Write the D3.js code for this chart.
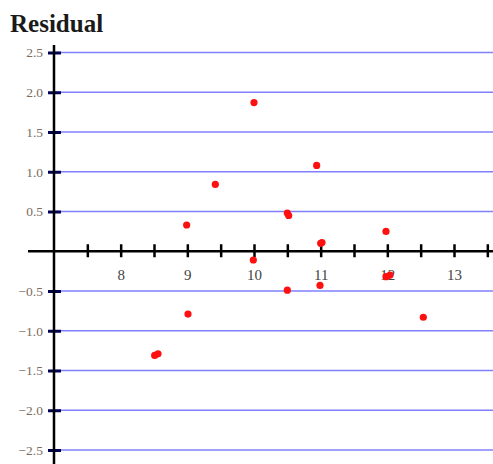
<!DOCTYPE html>
<html>
<head>
<meta charset="utf-8">
<script src="https://cdn.jsdelivr.net/npm/d3@7"></script>
<style>
  html, body { margin: 0; padding: 0; background: #fff; }
  svg { display: block; }
</style>
</head>
<body>
<svg id="chart" width="493" height="464"></svg>
<script>
// residual plot
const xVals = [10, 9.42, 8.99, 10.5, 10.52, 9.99, 10.94, 11, 11.02, 11.98, 11.98, 12.04, 10.99, 10.5, 12.54, 9.01, 8.51, 8.56];
const yVals = [1.87, 0.84, 0.33, 0.48, 0.45, -0.11, 1.08, 0.1, 0.11, 0.25, -0.32, -0.3, -0.43, -0.49, -0.83, -0.79, -1.31, -1.29];
const yTicks = [-2.5, -2.0, -1.5, -1.0, -0.5, 0.5, 1.0, 1.5, 2.0, 2.5];
const xTicks = [7.5, 8, 8.5, 9, 9.5, 10, 10.5, 11, 11.5, 12, 12.5, 13, 13.5];
const xLabels = [8, 9, 10, 11, 12, 13];

const svg = d3.select('#chart');
const W = 493, H = 464;

const x = d3.scaleLinear().domain([7, 13.585]).range([54, 493]);
const y = d3.scaleLinear().domain([-2.5, 2.5]).range([450, 52.5]);

// title
svg.append('text')
  .attr('x', 10).attr('y', 32)
  .attr('font-family', '"Liberation Serif", "Times New Roman", serif')
  .attr('font-weight', 'bold')
  .attr('font-size', 25)
  .attr('fill', '#1a1a1a')
  .text('Residual');

// horizontal grid lines
svg.append('g').selectAll('line')
  .data(yTicks)
  .enter()
  .append('line')
  .attr('x1', x(7)).attr('x2', W)
  .attr('y1', d => y(d)).attr('y2', d => y(d))
  .attr('stroke', '#8080ff')
  .attr('stroke-width', 1.6);

// y axis
const yAxis = svg.append('g')
  .attr('transform', `translate(${x(7)},0)`)
  .call(d3.axisLeft(y).tickValues(yTicks).tickFormat(d3.format('.1f')).tickSize(6).tickPadding(5));
yAxis.select('.domain').remove();
yAxis.selectAll('.tick line')
  .attr('x1', -6).attr('x2', 7)
  .attr('stroke', '#000050')
  .attr('stroke-width', 3);
yAxis.selectAll('.tick text')
  .attr('font-family', '"Liberation Serif", "Times New Roman", serif')
  .attr('font-size', 13.5)
  .attr('fill', '#7a6c60');

svg.append('line')
  .attr('x1', x(7)).attr('x2', x(7))
  .attr('y1', 45).attr('y2', H)
  .attr('stroke', '#000')
  .attr('stroke-width', 2.5);

// x axis
const xAxis = svg.append('g')
  .attr('transform', `translate(0,${y(0)})`)
  .call(d3.axisBottom(x).tickValues(xTicks)
    .tickFormat(d => xLabels.includes(d) ? d : '')
    .tickSize(6).tickPadding(12));
xAxis.select('.domain').remove();
xAxis.selectAll('.tick line')
  .attr('y1', -7).attr('y2', 6)
  .attr('stroke', '#000')
  .attr('stroke-width', 2.5);
xAxis.selectAll('.tick text')
  .attr('font-family', '"Liberation Serif", "Times New Roman", serif')
  .attr('font-size', 15)
  .attr('fill', '#444');

svg.append('line')
  .attr('x1', 28).attr('x2', W)
  .attr('y1', y(0)).attr('y2', y(0))
  .attr('stroke', '#000')
  .attr('stroke-width', 2.5);

// points
svg.append('g').selectAll('circle')
  .data(xVals.map((v, i) => [v, yVals[i]]))
  .enter()
  .append('circle')
  .attr('cx', d => x(d[0]))
  .attr('cy', d => y(d[1]))
  .attr('r', 3.6)
  .attr('fill', '#ff1010');
</script>
</body>
</html>
